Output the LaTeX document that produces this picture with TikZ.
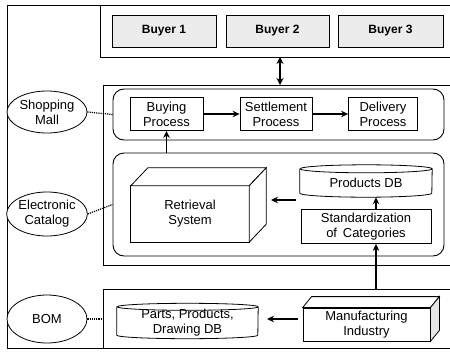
\documentclass[tikz,border=0pt]{standalone}
\usepackage{fontspec}
\setmainfont{Liberation Sans}
\usetikzlibrary{shapes.geometric,arrows.meta}
\newcommand\dbcyl[3]{% name, x radius, y radius
  \draw[line width=0.8pt] ([yshift=-#3]#1.north west) -- ([yshift=#3]#1.south west)
    arc[start angle=180,end angle=360,x radius=#2,y radius=#3]
    -- ([yshift=-#3]#1.north east)
    arc[start angle=0,end angle=360,x radius=#2,y radius=#3];}
\newcommand\boxthree[4]{% name, dx, dy, right face fill
  \filldraw[line width=0.8pt,fill=white] (#1.north west) -- ++(#2,-#3) -- ([shift={(#2,-#3)}]#1.north east) -- (#1.north east) -- cycle;
  \filldraw[line width=0.8pt,fill=#4] (#1.north east) -- ([shift={(#2,-#3)}]#1.north east) -- ([shift={(#2,-#3)}]#1.south east) -- (#1.south east) -- cycle;}
\begin{document}
\begin{tikzpicture}[x=1pt,y=-1pt,
  every node/.style={font=\fontsize{13}{15}\selectfont, align=center, inner sep=0pt},
  frame/.style={line width=0.9pt},
  buyer/.style={draw, line width=0.9pt, fill=gray!15, minimum height=32pt,
    font=\fontsize{12}{14}\selectfont\bfseries},
  proc/.style={draw, line width=0.8pt, fill=white},
  region/.style={draw, line width=0.9pt, rounded corners=11pt},
  dbnode/.style={minimum width=#1, minimum height=32pt},
  oval/.style={draw, ellipse, line width=0.8pt, minimum width=80pt, fill=white},
  arr/.style={-{Stealth[length=7pt,width=6.5pt]}, line width=1.6pt},
  arrtwo/.style={{Stealth[length=7pt,width=7pt]}-{Stealth[length=7pt,width=7pt]}, line width=1.6pt},
  link/.style={densely dotted, line width=1.2pt}]
\useasboundingbox (0,0) rectangle (450,351);
% frames
\draw[frame] (450,5) -- (7,5) -- (7,348) -- (450,348);
\draw[frame] (100,5) -- (100,57) -- (450,57);
\draw[frame] (450,85) -- (103,85) -- (103,265) -- (450,265);
\draw[frame] (450,289) -- (103,289) -- (103,348);
% buyers
\node[buyer, minimum width=104pt] (b1) at (164,31) {Buyer 1};
\node[buyer, minimum width=103pt] (b2) at (277.5,31) {Buyer 2};
\node[buyer, minimum width=105pt] (b3) at (390.5,31) {Buyer 3};
\coordinate (bf) at (280,57);
\coordinate (mf) at (280,85);
\draw[arrtwo] (bf) -- (mf);
% shopping mall region
\node[region, minimum width=331pt, minimum height=51pt] (mallbox) at (278.5,114.5) {};
\node[proc, minimum width=73pt, minimum height=33pt] (buy) at (166.5,114) {Buying\\Process};
\node[proc, minimum width=72pt, minimum height=33pt] (set) at (276,114) {Settlement\\Process};
\node[proc, minimum width=69pt, minimum height=33pt] (del) at (383,114) {Delivery\\Process};
\draw[arr] (buy) -- (set);
\draw[arr] (set) -- (del);
% electronic catalog region
\node[region, minimum width=331pt, minimum height=103pt] (catbox) at (278.5,204.5) {};
\node[minimum width=118pt, minimum height=56pt] (ret) at (190,214) {Retrieval\\System};
\draw[line width=0.8pt] (ret.north west) rectangle (ret.south east);
\boxthree{ret}{17}{18}{white}
\node[dbnode=132pt] (pdb) at (366,181) {};
\dbcyl{pdb}{66pt}{4pt}
\node at (366,183) {Products DB};
\node[proc, minimum width=130pt, minimum height=34pt] (stand) at (366,226.5) {Standardization\\of\, Categories};
\draw[arr] (buy.south |- catbox.north) -- (buy.south);
\coordinate (rtail) at (296,200);
\coordinate (rtip) at (271,200);
\draw[arr] (rtail) -- (rtip);
\coordinate (bomtop) at (376,289);
\draw[arr] (stand.north -| bomtop) -- (pdb.south -| bomtop);
\draw[arr] (bomtop) -- (stand.south -| bomtop);
% bottom region
\node[dbnode=141pt, minimum height=35pt] (parts) at (187.5,321) {};
\dbcyl{parts}{70.5pt}{3.5pt}
\node at (187.5,323) {Parts, Products,\\Drawing DB};
\node[proc, minimum width=127pt, minimum height=33pt] (mfg) at (366.5,324.5) {Manufacturing\\Industry};
\boxthree{mfg}{9}{11}{gray!20}
\coordinate (mtail) at (298,319);
\coordinate (mtip) at (267,319);
\draw[arr] (mtail) -- (mtip);
% ovals
\node[oval, minimum height=42pt] (mall) at (47,112) {Shopping\\Mall};
\node[oval, minimum height=44pt] (cat) at (47,214) {Electronic\\Catalog};
\node[oval, minimum height=48pt] (bom) at (47,319) {BOM};
\coordinate (bomframe) at (103,319);
\draw[link] (mall.east) -- (mallbox.west);
\draw[link] (cat.east) -- (catbox.west);
\draw[link] (bom.east) -- (bomframe);
\end{tikzpicture}
\end{document}
